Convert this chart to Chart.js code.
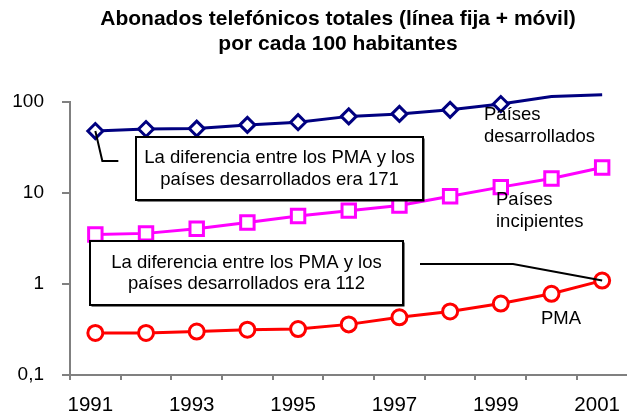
<!DOCTYPE html>
<html>
<head>
<meta charset="utf-8">
<script src="https://cdn.jsdelivr.net/npm/chart.js@4/dist/chart.umd.min.js"></script>
<style>
    html, body { margin: 0; padding: 0; background: #fff; overflow: hidden; }
    #wrap { position: relative; width: 640px; height: 416px; }
</style>
</head>
<body>
<div id="wrap"><canvas id="phoneChart"></canvas></div>
<script>
// Data
const years = ['1991', '1992', '1993', '1994', '1995', '1996', '1997', '1998', '1999', '2000', '2001'];
const desarrollados = [48, 50.5, 51, 56, 60, 69.5, 74, 82, 95, 115, 120];
const incipientes = [3.5, 3.6, 4.05, 4.75, 5.6, 6.4, 7.3, 9.2, 11.6, 14.4, 19.1];
const pma = [0.29, 0.29, 0.3, 0.315, 0.32, 0.36, 0.43, 0.5, 0.61, 0.78, 1.09];
const yTicks = [0.1, 1, 10, 100];

const titleLines = ['Abonados telefónicos totales (línea fija + móvil)', 'por cada 100 habitantes'];
const note171 = ['La diferencia entre los PMA y los', 'países desarrollados era 171'];
const note112 = ['La diferencia entre los PMA y los', 'países desarrollados era 112'];

const FONT = 'Arial, "Liberation Sans", sans-serif';
const AXIS_GREY = '#808080';

function drawLines(ctx, lines, x, y, step, align) {
    ctx.textAlign = align;
    ctx.textBaseline = 'middle';
    lines.forEach((t, i) => ctx.fillText(t, x, y + i * step));
}

function drawBox(ctx, x, y, w, h, lines) {
    ctx.fillStyle = '#000';
    ctx.fillRect(x + 1.5, y + 1.5, w, h);
    ctx.fillStyle = '#fff';
    ctx.fillRect(x, y, w, h);
    ctx.strokeRect(x, y, w, h);
    ctx.fillStyle = '#000';
    drawLines(ctx, lines, x + w / 2, y + h / 2 - 10.5, 21.5, 'center');
}

// Title, callout boxes and series labels
const notesPlugin = {
    id: 'notes',
    afterDatasetsDraw(chart) {
        const ctx = chart.ctx;
        const blueFirst = chart.getDatasetMeta(0).data[0];
        const redLast = chart.getDatasetMeta(2).data[pma.length - 1];

        ctx.save();
        ctx.fillStyle = '#000';
        ctx.font = 'bold 21px ' + FONT;
        drawLines(ctx, titleLines, 338, 19, 25.5, 'center');

        ctx.strokeStyle = '#000';
        ctx.lineWidth = 2;
        ctx.font = '18.5px ' + FONT;

        // connector to the 1991 point
        ctx.beginPath();
        ctx.moveTo(blueFirst.x, blueFirst.y);
        ctx.lineTo(blueFirst.x + 7, 161);
        ctx.lineTo(blueFirst.x + 23, 161);
        ctx.stroke();

        // connector to the 2001 point
        ctx.beginPath();
        ctx.moveTo(420, 264);
        ctx.lineTo(513, 264);
        ctx.lineTo(redLast.x, redLast.y);
        ctx.stroke();

        drawBox(ctx, 136, 137, 287, 63, note171);
        drawBox(ctx, 90, 241, 313, 64, note112);

        ctx.fillStyle = '#000';
        drawLines(ctx, ['Países', 'desarrollados'], 484, 115, 21.7, 'left');
        drawLines(ctx, ['Países', 'incipientes'], 496, 200, 21.7, 'left');
        drawLines(ctx, ['PMA'], 541, 319, 21.7, 'left');
        ctx.restore();
    }
};

Chart.defaults.font.family = FONT;
Chart.defaults.color = '#000';

new Chart(document.getElementById('phoneChart'), {
    type: 'line',
    data: {
        labels: years,
        datasets: [{
            label: 'Países desarrollados',
            data: desarrollados,
            borderColor: '#000080',
            backgroundColor: '#fff',
            borderWidth: 3,
            pointStyle: 'rectRot',
            pointRadius: desarrollados.map((v, i) => i < 9 ? 7.5 : 0),
            pointBorderWidth: 3,
            clip: false
        }, {
            label: 'Países incipientes',
            data: incipientes,
            borderColor: '#FF00FF',
            backgroundColor: '#fff',
            borderWidth: 3,
            pointStyle: 'rect',
            pointRadius: 9.5,
            pointBorderWidth: 3
        }, {
            label: 'PMA',
            data: pma,
            borderColor: '#FF0000',
            backgroundColor: '#fff',
            borderWidth: 3,
            pointStyle: 'circle',
            pointRadius: 7.5,
            pointBorderWidth: 3
        }]
    },
    options: {
        responsive: true,
        maintainAspectRatio: false,
        animation: false,
        layout: {
            padding: { left: 0, right: 6, top: 102, bottom: 0 }
        },
        plugins: {
            legend: { display: false },
            tooltip: { enabled: false },
            title: { display: false }
        },
        scales: {
            x: {
                type: 'category',
                offset: true,
                grid: {
                    offset: true,
                    drawOnChartArea: false,
                    tickLength: 5,
                    color: AXIS_GREY,
                    lineWidth: 2
                },
                border: { color: AXIS_GREY, width: 2 },
                ticks: {
                    autoSkip: false,
                    maxRotation: 0,
                    padding: 13,
                    labelOffset: -5,
                    font: { size: 20.5 },
                    callback: function (val, idx) {
                        return idx % 2 === 0 ? this.getLabelForValue(val) : '';
                    }
                },
                afterFit: function (scale) {
                    scale.height = 41;
                }
            },
            y: {
                type: 'logarithmic',
                min: 0.1,
                max: 100,
                grid: {
                    drawOnChartArea: false,
                    tickLength: 8,
                    color: AXIS_GREY,
                    lineWidth: 2
                },
                border: { color: AXIS_GREY, width: 2 },
                ticks: {
                    padding: 18,
                    font: { size: 19 },
                    callback: v => String(v).replace('.', ',')
                },
                afterBuildTicks: function (scale) {
                    scale.ticks = yTicks.map(v => ({ value: v }));
                },
                afterFit: function (scale) {
                    scale.width = 70;
                }
            }
        }
    },
    plugins: [notesPlugin]
});
</script>
</body>
</html>
